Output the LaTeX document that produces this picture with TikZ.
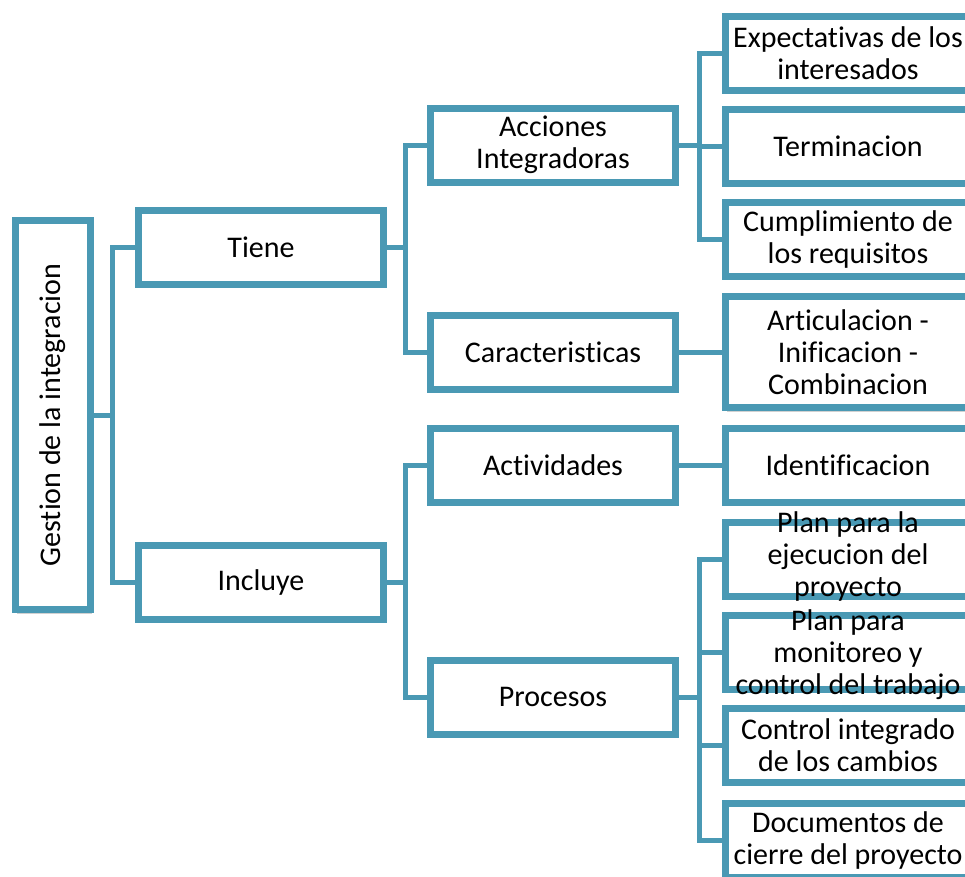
\documentclass[tikz,border=0pt]{standalone}
\usepackage{fontspec}
\setmainfont[Ligatures=NoCommon]{Carlito}
\usetikzlibrary{shadows}
\definecolor{boxblue}{RGB}{74,153,180}
\begin{document}
\begin{tikzpicture}[x=1pt,y=-1pt,
  txt/.style={font=\fontsize{30}{32}\selectfont},
  box/.style={txt, draw=boxblue, line width=7pt, fill=white, inner sep=0pt,
    align=center, minimum width=245pt, minimum height=74pt,
    drop shadow={shadow xshift=1pt, shadow yshift=-4pt, opacity=0.18, fill=black}},
  tall/.style={minimum height=111pt},
  conn/.style={draw=boxblue, line width=5pt}]
\useasboundingbox (0,0) rectangle (965,876);
\begin{scope}
\clip (0,0) rectangle (965,876);
\coordinate (rootc) at (53,415);
\coordinate (tienec) at (261,247);
\coordinate (incluyec) at (261,582);
\coordinate (accc) at (553,145);
\coordinate (carc) at (553,352);
\coordinate (actc) at (553,465);
\coordinate (proc) at (553,697);

% boxes
\node[box, minimum width=75pt, minimum height=389pt] (root) at (rootc)
  {\rotatebox{90}{Gestion de la integracion}};
\node[box] (tiene) at (tienec) {Tiene};
\node[box] (incluye) at (incluyec) {Incluye};
\node[box] (acc) at (accc) {Acciones\\Integradoras};
\node[box] (car) at (carc) {Caracteristicas};
\node[box] (act) at (actc) {Actividades};
\node[box] (pro) at (proc) {Procesos};

\node[box] (exp) at (848,53) {Expectativas de los\\interesados};
\node[box] (ter) at (848,146) {Terminacion};
\node[box] (cum) at (848,239) {Cumplimiento de\\los requisitos};
\node[box, tall] (art) at (848,352) {Articulacion -\\Inificacion -\\Combinacion};
\node[box] (ide) at (848,465) {Identificacion};
\node[box, label={[txt, align=center, yshift=3pt]center:Plan para la\\ejecucion del\\proyecto}] (pej) at (848,559) {};
\node[box, label={[txt, align=center, yshift=-3pt]center:Plan para\\monitoreo y\\control del trabajo}] (pmo) at (848,652) {};
\node[box] (cic) at (848,745) {Control integrado\\de los cambios};
\node[box] (doc) at (848,840) {Documentos de\\cierre del proyecto};

% elbow connectors between levels
\draw[conn] (root.east) -- ++(18,0) coordinate (j1) |- (tiene.west);
\draw[conn] (j1) |- (incluye.west);
\draw[conn] (tiene.east) -- ++(18,0) coordinate (j2) |- (acc.west);
\draw[conn] (j2) |- (car.west);
\draw[conn] (incluye.east) -- ++(18,0) coordinate (j3) |- (act.west);
\draw[conn] (j3) |- (pro.west);
\draw[conn] (acc.east) -- ++(20,0) coordinate (j4) |- (exp.west);
\draw[conn] (j4) |- (ter.west);
\draw[conn] (j4) |- (cum.west);
\draw[conn] (car.east) -- (car.east -| art.west);
\draw[conn] (act.east) -- (act.east -| ide.west);
\draw[conn] (pro.east) -- ++(20,0) coordinate (j5) |- (pej.west);
\draw[conn] (j5) |- (pmo.west);
\draw[conn] (j5) |- (cic.west);
\draw[conn] (j5) |- (doc.west);
\end{scope}
\end{tikzpicture}
\end{document}
